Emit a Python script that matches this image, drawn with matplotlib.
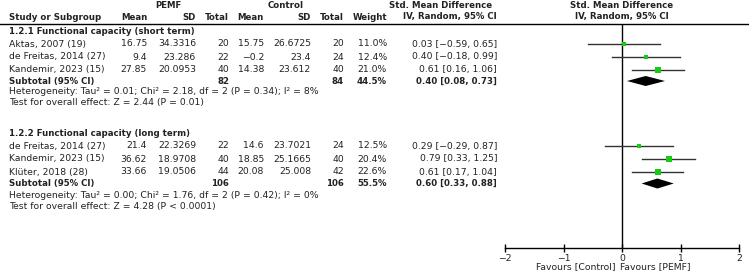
import numpy as np
import matplotlib
matplotlib.use("Agg")
import matplotlib.pyplot as plt
from matplotlib.lines import Line2D

# ---- data ----
studies_short = ["Aktas, 2007 (19)", "de Freitas, 2014 (27)", "Kandemir, 2023 (15)"]
pemf_mean_short = [16.75, 9.4, 27.85]
pemf_sd_short = [34.3316, 23.286, 20.0953]
pemf_n_short = [20, 22, 40]
ctrl_mean_short = [15.75, -0.2, 14.38]
ctrl_sd_short = [26.6725, 23.4, 23.612]
ctrl_n_short = [20, 24, 40]
weight_short = [11.0, 12.4, 21.0]
smd_short = [0.03, 0.40, 0.61]
lo_short = [-0.59, -0.18, 0.16]
hi_short = [0.65, 0.99, 1.06]
sub_short = dict(n1=82, n2=84, w=44.5, smd=0.40, lo=0.08, hi=0.73)
het_short = "Heterogeneity: Tau² = 0.01; Chi² = 2.18, df = 2 (P = 0.34); I² = 8%"
test_short = "Test for overall effect: Z = 2.44 (P = 0.01)"

studies_long = ["de Freitas, 2014 (27)", "Kandemir, 2023 (15)", "Klüter, 2018 (28)"]
pemf_mean_long = [21.4, 36.62, 33.66]
pemf_sd_long = [22.3269, 18.9708, 19.0506]
pemf_n_long = [22, 40, 44]
ctrl_mean_long = [14.6, 18.85, 20.08]
ctrl_sd_long = [23.7021, 25.1665, 25.008]
ctrl_n_long = [24, 40, 42]
weight_long = [12.5, 20.4, 22.6]
smd_long = [0.29, 0.79, 0.61]
lo_long = [-0.29, 0.33, 0.17]
hi_long = [0.87, 1.25, 1.04]
sub_long = dict(n1=106, n2=106, w=55.5, smd=0.60, lo=0.33, hi=0.88)
het_long = "Heterogeneity: Tau² = 0.00; Chi² = 1.76, df = 2 (P = 0.42); I² = 0%"
test_long = "Test for overall effect: Z = 4.28 (P < 0.0001)"

ticks = [-2, -1, 0, 1, 2]

# ---- layout (pixels) ----
W, H = 749, 273
FS = 6.7
FS_BOLD = 6.2
GREEN = "#14cc14"
col_x = [147, 196, 229, 264, 311, 344, 387, 497]  # right edges
forest_left, forest_right = 505.3, 739.3
axis_y, top_y = 248, 24


def fx(x):
    return x / W


def fy(y):
    return 1 - y / H


def num(v):
    return str(v).replace("-", "\u2212")


def ci(s, l, h):
    return f"{s:.2f} [{l:.2f}, {h:.2f}]".replace("-", "\u2212")


fig = plt.figure(figsize=(W / 100, H / 100), dpi=100)


def txt(x, y, s, ha="left", bold=False):
    fig.text(fx(x), fy(y), s, ha=ha, va="center",
             fontsize=FS_BOLD if bold else FS,
             fontweight="bold" if bold else "normal", color="#222222")


# headers
txt(168, 5.5, "PEMF", ha="center", bold=True)
txt(286, 5.5, "Control", ha="center", bold=True)
txt(441, 5.5, "Std. Mean Difference", ha="center", bold=True)
txt(622, 5.5, "Std. Mean Difference", ha="center", bold=True)
txt(9, 17, "Study or Subgroup", bold=True)
for x, s in zip(col_x[:7], ["Mean", "SD", "Total", "Mean", "SD", "Total", "Weight"]):
    txt(x, 17, s, ha="right", bold=True)
txt(449.5, 17, "IV, Random, 95% CI", ha="center", bold=True)
txt(622, 17, "IV, Random, 95% CI", ha="center", bold=True)
fig.add_artist(Line2D([0, 1], [fy(top_y), fy(top_y)], color="black", lw=1))

ax = fig.add_axes([fx(forest_left), fy(axis_y), fx(forest_right - forest_left),
                   (axis_y - top_y) / H])
ax.set_xlim(-2, 2)
ax.set_ylim(axis_y, top_y)
for sp in ["top", "left", "right"]:
    ax.spines[sp].set_visible(False)
ax.spines["bottom"].set_linewidth(1)
ax.set_yticks([])
ax.set_xticks(ticks)
ax.tick_params(axis="x", direction="inout", length=6, width=1, pad=1,
               labelsize=FS, labelcolor="#222222")
ax.axvline(0, color="black", lw=1)
ax.patch.set_alpha(0)

groups = [
    ("1.2.1 Functional capacity (short term)", 32, [44, 57, 69.5], 81, 92, 103,
     studies_short, pemf_mean_short, pemf_sd_short, pemf_n_short, ctrl_mean_short,
     ctrl_sd_short, ctrl_n_short, weight_short, smd_short, lo_short, hi_short,
     sub_short, het_short, test_short),
    ("1.2.2 Functional capacity (long term)", 134, [146, 159, 172], 183.5, 195, 207,
     studies_long, pemf_mean_long, pemf_sd_long, pemf_n_long, ctrl_mean_long,
     ctrl_sd_long, ctrl_n_long, weight_long, smd_long, lo_long, hi_long,
     sub_long, het_long, test_long),
]

for (title, ty, rows, sy, hy, tsy, names, m1, s1, n1, m2, s2, n2, w, smd, lo, hi,
     sub, het, test) in groups:
    txt(9, ty, title, bold=True)
    for i, y in enumerate(rows):
        txt(9, y, names[i])
        vals = [num(m1[i]), num(s1[i]), str(n1[i]), num(m2[i]), num(s2[i]),
                str(n2[i]), f"{w[i]:.1f}%", ci(smd[i], lo[i], hi[i])]
        for x, s in zip(col_x, vals):
            txt(x, y, s, ha="right")
        ax.plot([lo[i], hi[i]], [y, y], color="#333333", lw=1)
        ax.plot(smd[i], y, marker="s", color=GREEN, ms=0.8 * np.sqrt(w[i]),
                mec=GREEN, mew=0)
    txt(9, sy, "Subtotal (95% CI)", bold=True)
    for x, s in zip(col_x[2:], [str(sub["n1"]), "", "", str(sub["n2"]),
                                f"{sub['w']:.1f}%", ci(sub["smd"], sub["lo"], sub["hi"])]):
        if s:
            txt(x, sy, s, ha="right", bold=True)
    ax.fill([sub["lo"], sub["smd"], sub["hi"], sub["smd"]],
            [sy, sy - 5, sy, sy + 5], color="black", lw=0)
    txt(9, hy, het)
    txt(9, tsy, test)

txt(615, 267, "Favours [Control]", ha="right")
txt(620, 267, "Favours [PEMF]")

fig.savefig("out.png", dpi=100)
